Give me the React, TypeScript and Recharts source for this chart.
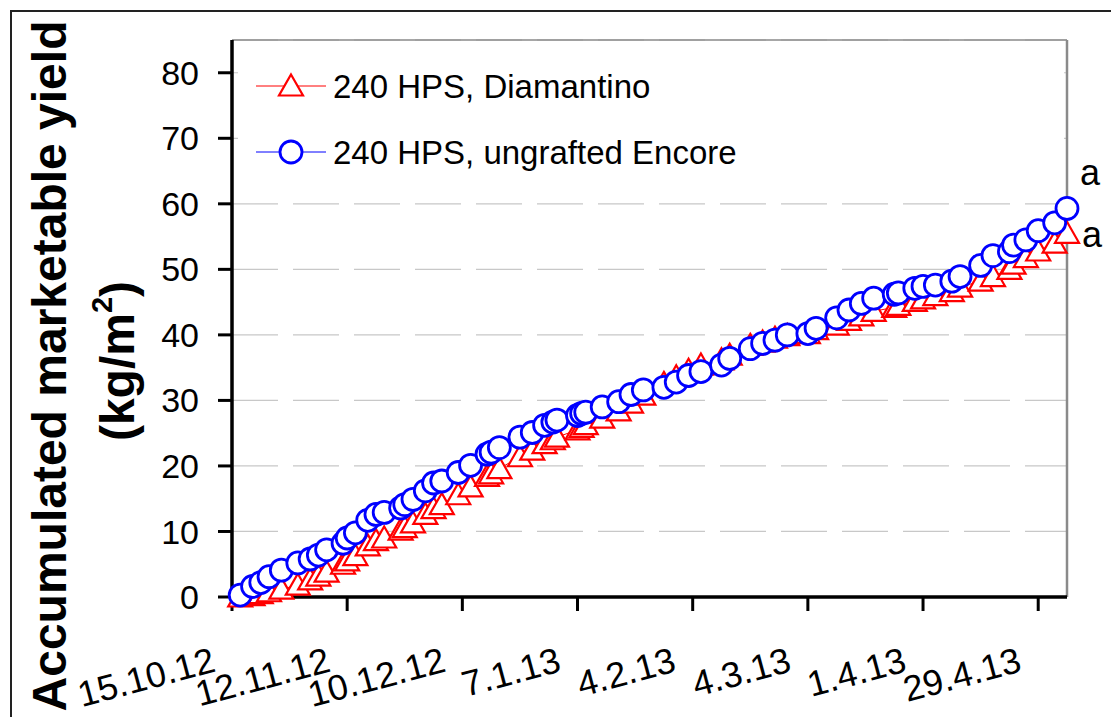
import { LineChart, Line, XAxis, YAxis, CartesianGrid, ReferenceLine } from 'recharts'

const FONT = "'Liberation Sans', Arial, sans-serif"

// harvest dates (d.m.yy) and accumulated marketable yield, kg/m2
const harvestDates = [
  '17.10.12', '20.10.12', '22.10.12', '24.10.12', '27.10.12', '31.10.12', '3.11.12', '5.11.12', '7.11.12', '11.11.12',
  '12.11.12', '14.11.12', '17.11.12', '19.11.12', '21.11.12', '25.11.12', '26.11.12', '28.11.12', '1.12.12', '3.12.12',
  '5.12.12', '9.12.12', '12.12.12', '16.12.12', '17.12.12', '19.12.12', '24.12.12', '27.12.12', '30.12.12', '1.1.13',
  '2.1.13', '7.1.13', '8.1.13', '9.1.13', '13.1.13', '17.1.13', '20.1.13', '23.1.13', '28.1.13', '31.1.13',
  '3.2.13', '6.2.13', '11.2.13', '13.2.13', '18.2.13', '21.2.13', '24.2.13', '27.2.13', '4.3.13', '6.3.13',
  '11.3.13', '14.3.13', '17.3.13', '20.3.13', '25.3.13', '26.3.13', '30.3.13', '1.4.13', '4.4.13', '8.4.13',
  '10.4.13', '15.4.13', '18.4.13', '22.4.13', '23.4.13', '26.4.13', '29.4.13', '3.5.13', '6.5.13',
]

const diamantino = [
  0.0, 0.2, 0.5, 0.8, 1.2, 1.8, 2.6, 3.2, 3.8, 5.0,
  5.5, 6.3, 7.8, 8.6, 9.0, 10.2, 10.6, 11.3, 12.6, 13.5,
  14.1, 15.6, 16.8, 18.4, 18.8, 19.6, 21.4, 22.4, 23.4, 24.0,
  24.4, 25.5, 25.9, 26.3, 27.3, 28.4, 29.6, 30.8, 32.6, 33.6,
  34.6, 35.4, 36.2, 36.9, 38.4, 38.9, 39.5, 39.9, 40.2, 40.8,
  41.5, 42.2, 42.9, 43.6, 44.2, 44.5, 45.1, 45.5, 46.0, 46.6,
  47.3, 48.2, 48.9, 50.0, 50.8, 51.8, 52.8, 54.0, 55.5,
]

const ungraftedEncore = [
  0.3, 1.6, 2.2, 3.1, 4.1, 5.2, 5.8, 6.4, 7.2, 8.2,
  9.0, 9.8, 11.7, 12.6, 12.9, 13.6, 14.1, 14.9, 16.2, 17.4,
  17.7, 19.0, 20.1, 21.8, 22.1, 22.8, 24.4, 25.1, 26.2, 26.7,
  27.0, 27.7, 28.0, 28.2, 29.0, 29.8, 30.9, 31.6, 32.0, 32.8,
  33.8, 34.4, 35.4, 36.4, 37.9, 38.7, 39.2, 40.0, 40.2, 41.0,
  42.6, 43.8, 44.8, 45.6, 46.2, 46.4, 47.1, 47.4, 47.6, 48.2,
  48.9, 50.6, 52.1, 52.7, 53.7, 54.5, 55.9, 57.1, 59.3,
]

const axisDates = ['15.10.12', '12.11.12', '10.12.12', '7.1.13', '4.2.13', '4.3.13', '1.4.13', '29.4.13']
const yTicks = [0, 10, 20, 30, 40, 50, 60, 70, 80]
const seriesNames = ['240 HPS, Diamantino', '240 HPS, ungrafted Encore']
const letters = ['a', 'a']

// days since the first axis date
const toDay = (s: string) => {
  const [d, m, y] = s.split('.').map(Number)
  return Math.round((Date.UTC(2000 + y, m - 1, d) - Date.UTC(2012, 9, 15)) / 86400000)
}

const data = harvestDates.map((d, i) => ({
  day: toDay(d),
  diamantino: diamantino[i],
  encore: ungraftedEncore[i],
}))
const xTicks = axisDates.map(toDay)
const lastDay = data[data.length - 1].day
const lastIdx = data.length - 1

const RED = '#ff0000'
const BLUE = '#0000ff'

const triPath = (cx: number, cy: number) =>
  `M${cx},${cy - 11.5}L${cx + 12},${cy + 9.5}L${cx - 12},${cy + 9.5}Z`

const TriangleDot = (props: any) => {
  const { cx, cy, index } = props
  return <path key={`tri-${index}`} d={triPath(cx, cy)} fill="#fff" stroke={RED} strokeWidth={2.2} />
}

const DateTick = (props: any) => {
  const { x, y, payload } = props
  const label = axisDates[xTicks.indexOf(payload.value)] ?? ''
  const tx = x - 15
  const ty = y + 58
  return (
    <text x={tx} y={ty} transform={`rotate(-15, ${tx}, ${ty})`} textAnchor="end" fontSize={36} fontFamily={FONT} fill="#000">
      {label}
    </text>
  )
}

// letter beside the final point of a series
const endLetter = (text: string, dx: number, dy: number, finalValue: number) => (props: any) => {
  const isLast = props.index != null ? props.index === lastIdx : props.value === finalValue
  if (!isLast) return <g key={`l-${props.index}`} />
  return (
    <text key="end-letter" x={props.x + dx} y={props.y + dy} fontSize={36} fontFamily={FONT} fill="#000">
      {text}
    </text>
  )
}

const YTitle = () => (
  <g fontFamily={FONT} fontWeight="bold" fill="#000">
    <text transform="translate(66,366) rotate(-90)" textAnchor="middle" fontSize={48}>
      Accumulated marketable yield
    </text>
    <text transform="translate(134,361) rotate(-90)" textAnchor="middle" fontSize={48}>
      (kg/m<tspan dy={-22} fontSize={29}>2</tspan>
      <tspan dy={22}>)</tspan>
    </text>
  </g>
)

function ChartLegend() {
  return (
    <svg width={826} height={140} style={{ position: 'absolute', left: 238, top: 45 }}>
      <rect width={826} height={140} fill="#fff" />
      {seriesNames.map((name, i) => {
        const cy = 41 + i * 66
        const color = i === 0 ? RED : BLUE
        return (
          <g key={name}>
            <line x1={18} x2={88} y1={cy} y2={cy} stroke={color} strokeWidth={1} />
            {i === 0 ? (
              <path d={triPath(53, cy)} fill="#fff" stroke={RED} strokeWidth={2.2} />
            ) : (
              <circle cx={53} cy={cy} r={11} fill="#fff" stroke={BLUE} strokeWidth={2.8} />
            )}
            <text x={95} y={cy} dy="0.36em" fontSize={33} fontFamily={FONT} fill="#000">
              {name}
            </text>
          </g>
        )
      })}
    </svg>
  )
}

export default function App() {
  return (
    <div style={{ position: 'absolute', left: 0, top: 0, width: 1111, height: 717, overflow: 'hidden', background: '#fff' }}>
      <div style={{ position: 'absolute', left: 10, top: 10, width: 1200, height: 800, border: '2px solid #222' }} />
      <div style={{ position: 'absolute', left: 0, top: 0 }}>
        <LineChart width={1111} height={717} data={data} margin={{ top: 40, right: 44, bottom: 60, left: 132 }}>
          <CartesianGrid vertical={false} stroke="#c8c8c8" strokeWidth={1.2} strokeDasharray="46 15" />
          <ReferenceLine y={85} stroke="#8a8a8a" strokeWidth={1.5} />
          <ReferenceLine x={lastDay} stroke="#8a8a8a" strokeWidth={2.5} />
          <XAxis
            type="number"
            dataKey="day"
            domain={[0, lastDay]}
            ticks={xTicks}
            interval={0}
            height={60}
            tickSize={14}
            axisLine={{ stroke: '#000', strokeWidth: 3.5 }}
            tickLine={{ stroke: '#000', strokeWidth: 3 }}
            tick={<DateTick />}
          />
          <YAxis
            type="number"
            domain={[0, 85]}
            ticks={yTicks}
            interval={0}
            width={100}
            tickSize={14}
            tickMargin={19}
            axisLine={{ stroke: '#000', strokeWidth: 3.5 }}
            tickLine={{ stroke: '#000', strokeWidth: 3 }}
            tick={{ fontSize: 34, fontFamily: FONT, fill: '#000' }}
            label={{ content: () => <YTitle /> }}
          />
          <Line
            type="linear"
            dataKey="diamantino"
            stroke={RED}
            strokeWidth={1}
            dot={TriangleDot}
            activeDot={false}
            label={endLetter(letters[0], 15, 14, diamantino[lastIdx])}
            isAnimationActive={false}
          />
          <Line
            type="linear"
            dataKey="encore"
            stroke={BLUE}
            strokeWidth={1}
            dot={{ r: 11, fill: '#fff', stroke: BLUE, strokeWidth: 2.8 }}
            activeDot={false}
            label={endLetter(letters[1], 13, -23, ungraftedEncore[lastIdx])}
            isAnimationActive={false}
          />
        </LineChart>
      </div>
      <ChartLegend />
    </div>
  )
}
